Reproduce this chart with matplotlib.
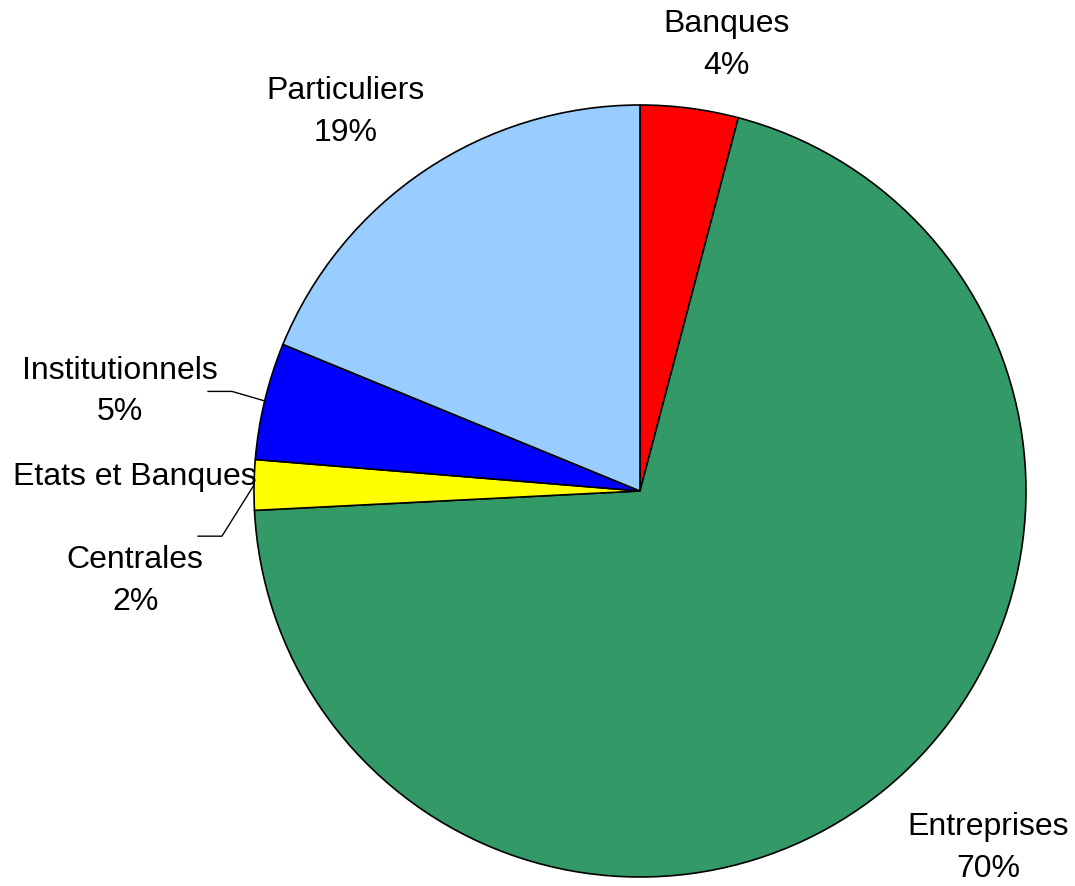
import numpy as np
import matplotlib
matplotlib.use('Agg')
from matplotlib import pyplot as plt

plt.rcParams['font.family'] = ['Liberation Sans', 'DejaVu Sans']

# shares (clockwise from 12 o'clock)
categories = ['Banques', 'Entreprises', 'Etats et Banques\n\nCentrales', 'Institutionnels', 'Particuliers']
shares = [4.1, 70.1, 2.1, 4.9, 18.8]
colors = ['#FF0000', '#339966', '#FFFF00', '#0000FF', '#99CCFF']

# label block centres, in pie-radius units
label_pos = [(0.225, 1.155), (0.903, -0.925), (-1.308, -0.125), (-1.347, 0.258), (-0.763, 0.982)]
# elbow + end of leader lines (only for the two small left slices)
leaders = {2: [(-1.083, -0.117), (-1.145, -0.117)],
           3: [(-1.057, 0.258), (-1.119, 0.258)]}

W, H = 1075, 886
cx, cy, R = 640, 491, 386

fig = plt.figure(figsize=(W / 100, H / 100), dpi=100)
ax = fig.add_axes([0, 0, 1, 1])

wedges, _ = ax.pie(shares, colors=colors, startangle=90, counterclock=False,
                   radius=1, center=(0, 0),
                   wedgeprops=dict(edgecolor='black', linewidth=1.2))

total = sum(shares)
for i, (name, val) in enumerate(zip(categories, shares)):
    x, y = label_pos[i]
    ax.text(x, y, f'{name}\n{round(val / total * 100):.0f}%', ha='center', va='center',
            fontsize=23, linespacing=1.5)
    if i in leaders:
        w = wedges[i]
        mid = np.deg2rad((w.theta1 + w.theta2) / 2)
        pts = [(np.cos(mid), np.sin(mid))] + leaders[i]
        xs, ys = zip(*pts)
        ax.plot(xs, ys, color='black', lw=1)

ax.set_xlim(-cx / R, (W - cx) / R)
ax.set_ylim(-(H - cy) / R, cy / R)
ax.set_aspect('auto')
ax.axis('off')

fig.savefig('out.png', dpi=100)
